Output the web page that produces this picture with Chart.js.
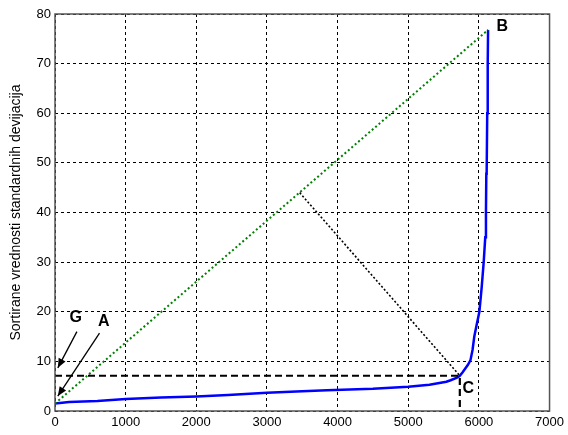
<!DOCTYPE html>
<html>
<head>
<meta charset="utf-8">
<script src="https://cdn.jsdelivr.net/npm/chart.js@4"></script>
<style>
  html, body { margin: 0; padding: 0; background: #fff; }
  #wrap { width: 568px; height: 435px; }
</style>
</head>
<body>
<div id="wrap"><canvas id="chart"></canvas></div>
<script>
// sorted standard deviations (blue curve)
let blueX = [0, 200, 600, 1000, 1500, 2000, 2450, 3000, 3500, 3850, 4500, 5000, 5300, 5540, 5600, 5690, 5730, 5770, 5810, 5845, 5880, 5910, 5935, 5970, 6007, 6040, 6068, 6090, 6100, 6105, 6110, 6118, 6125, 6130];
let blueY = [1.5, 1.8, 2.0, 2.4, 2.7, 2.9, 3.2, 3.7, 4.0, 4.2, 4.5, 4.9, 5.3, 5.9, 6.2, 6.7, 7.1, 7.8, 8.6, 9.3, 10.2, 12.3, 15, 17.5, 20, 25, 30, 35, 40, 47.8, 48, 60, 70, 76.8];

// line A-B (green dotted)
let greenX = [0, 6130];
let greenY = [1.5, 76.8];

// perpendicular from A-B to C (black dotted)
let perpX = [3464, 5730];
let perpY = [44, 7.1];

// dashed projection of C onto the axes
let dashX = [0, 5730, 5730];
let dashY = [7.1, 7.1, 0];

let xTicks = [0, 1000, 2000, 3000, 4000, 5000, 6000, 7000];
let yTicks = [0, 10, 20, 30, 40, 50, 60, 70, 80];

let yTitle = "Sortirane vrednosti standardnih devijacija";

// letters and arrows (data coordinates)
let letters = [
  { t: "G", x: 295, y: 18.8 },
  { t: "A", x: 690, y: 18.0 },
  { t: "B", x: 6330, y: 77.4 },
  { t: "C", x: 5850, y: 4.6 },
];
let arrows = [
  { x1: 310, y1: 16.0, x2: 40, y2: 8.7 },
  { x1: 630, y1: 15.7, x2: 40, y2: 3.0 },
];

const FONT = "'Liberation Sans', Arial, sans-serif";

function pts(xs, ys) {
  return xs.map((x, i) => ({ x: x, y: ys[i] }));
}

const extras = {
  id: "extras",
  afterDraw(chart) {
    const ctx = chart.ctx;
    const a = chart.chartArea;
    const sx = chart.scales.x, sy = chart.scales.y;
    ctx.save();
    // frame
    ctx.strokeStyle = "#555";
    ctx.lineWidth = 1.5;
    ctx.setLineDash([]);
    ctx.strokeRect(a.left, a.top, a.right - a.left, a.bottom - a.top);

    // arrows
    ctx.strokeStyle = "#000";
    ctx.fillStyle = "#000";
    ctx.lineWidth = 1.3;
    arrows.forEach((r) => {
      const x1 = sx.getPixelForValue(r.x1), y1 = sy.getPixelForValue(r.y1);
      const x2 = sx.getPixelForValue(r.x2), y2 = sy.getPixelForValue(r.y2);
      const ang = Math.atan2(y2 - y1, x2 - x1);
      ctx.beginPath();
      ctx.moveTo(x1, y1);
      ctx.lineTo(x2, y2);
      ctx.stroke();
      const len = 10, w = 0.4;
      ctx.beginPath();
      ctx.moveTo(x2, y2);
      ctx.lineTo(x2 - len * Math.cos(ang - w), y2 - len * Math.sin(ang - w));
      ctx.lineTo(x2 - len * Math.cos(ang + w), y2 - len * Math.sin(ang + w));
      ctx.closePath();
      ctx.fill();
    });

    // letters
    ctx.font = "bold 16px " + FONT;
    ctx.textAlign = "center";
    ctx.textBaseline = "middle";
    letters.forEach((l) => {
      ctx.fillText(l.t, sx.getPixelForValue(l.x), sy.getPixelForValue(l.y));
    });
    ctx.restore();
  },
};

new Chart(document.getElementById("chart"), {
  type: "scatter",
  plugins: [extras],
  data: {
    datasets: [
      {
        data: pts(dashX, dashY),
        showLine: true,
        borderColor: "#000",
        borderWidth: 2.2,
        borderDash: [7, 4],
        pointRadius: 0,
      },
      {
        data: pts(perpX, perpY),
        showLine: true,
        borderColor: "#000",
        borderWidth: 1.6,
        borderDash: [2, 2],
        pointRadius: 0,
      },
      {
        data: pts(greenX, greenY),
        showLine: true,
        borderColor: "#008000",
        borderWidth: 2,
        borderDash: [2, 2.5],
        pointRadius: 0,
      },
      {
        data: pts(blueX, blueY),
        showLine: true,
        borderColor: "#0000ff",
        borderWidth: 2.5,
        pointRadius: 0,
        tension: 0,
      },
    ],
  },
  options: {
    responsive: true,
    maintainAspectRatio: false,
    animation: false,
    layout: { padding: { left: 0, right: 14, top: 14, bottom: 0 } },
    plugins: {
      legend: { display: false },
      tooltip: { enabled: false },
    },
    scales: {
      x: {
        type: "linear",
        min: 0,
        max: 7000,
        afterBuildTicks: (s) => { s.ticks = xTicks.map((v) => ({ value: v })); },
        afterFit: (s) => { s.height = 24; },
        grid: { color: "#000", lineWidth: 1, drawTicks: false },
        border: { display: false, dash: [3, 3] },
        ticks: {
          color: "#000",
          padding: 4,
          maxRotation: 0,
          callback: (v) => String(v),
          font: { family: FONT, size: 13 },
        },
      },
      y: {
        type: "linear",
        min: 0,
        max: 80,
        afterBuildTicks: (s) => { s.ticks = yTicks.map((v) => ({ value: v })); },
        afterFit: (s) => { s.width = 55; },
        grid: { color: "#000", lineWidth: 1, drawTicks: false },
        border: { display: false, dash: [3, 3] },
        title: {
          display: true,
          text: yTitle,
          color: "#000",
          padding: { top: 8, bottom: 0 },
          font: { family: FONT, size: 14 },
        },
        ticks: {
          color: "#000",
          padding: 4,
          callback: (v) => String(v),
          font: { family: FONT, size: 13 },
        },
      },
    },
  },
});
</script>
</body>
</html>
